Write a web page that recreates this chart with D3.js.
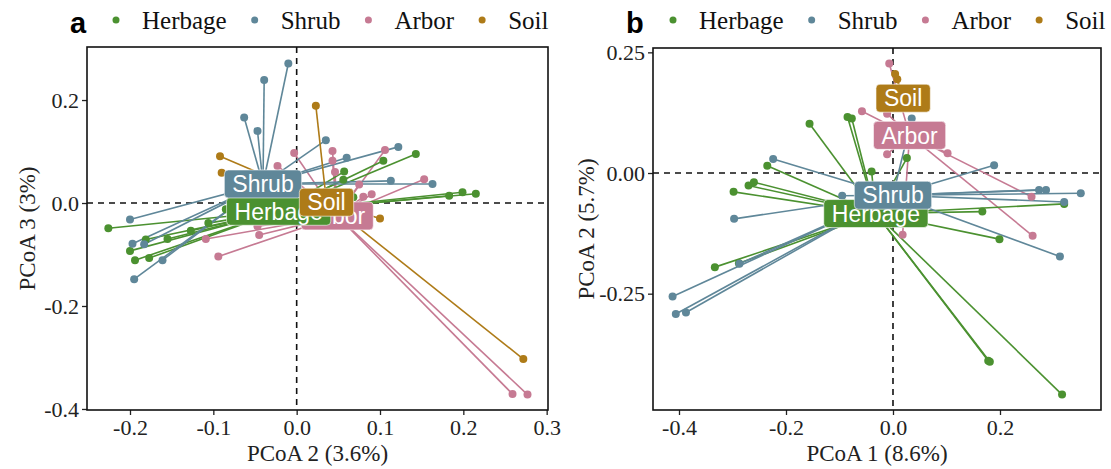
<!DOCTYPE html>
<html>
<head>
<meta charset="utf-8">
<script src="https://cdn.jsdelivr.net/npm/d3@7"></script>
<style>
  body { margin: 0; background: #fff; }
  svg text { font-family: "Liberation Serif", "Times New Roman", serif; }
</style>
</head>
<body>
<div id="chart"></div>
<script>
// groups and colours
var groups = ["Herbage", "Shrub", "Arbor", "Soil"];
var groupColors = ["#4b9130", "#5f8799", "#c67a93", "#ae7b18"];

// panel a: PCoA 2 (x) vs PCoA 3 (y)
var herbageA = [[-0.226,-0.049],[-0.200,-0.093],[-0.194,-0.111],[-0.181,-0.071],[-0.177,-0.107],[-0.155,-0.070],
  [-0.127,-0.054],[-0.106,-0.039],[-0.085,-0.012],[0.057,0.061],[0.104,0.082],[0.143,0.095],[0.183,0.014],
  [0.199,0.021],[0.215,0.018],[0.068,0.011],[0.056,0.045]];
var shrubA = [[-0.010,0.271],[-0.039,0.239],[-0.063,0.166],[-0.047,0.140],[0.035,0.122],[0.060,0.088],
  [0.122,0.109],[0.113,0.043],[0.163,0.037],[-0.200,-0.032],[-0.197,-0.079],[-0.183,-0.080],[-0.161,-0.111],
  [-0.195,-0.148]];
var arborA = [[-0.003,0.097],[0.043,0.101],[0.043,0.082],[0.046,0.060],[0.106,0.103],[0.153,0.046],
  [0.080,0.012],[0.090,0.017],[0.075,0.036],[-0.023,0.072],[-0.047,-0.045],[-0.045,-0.062],[-0.109,-0.070],
  [-0.094,-0.104],[0.259,-0.371],[0.277,-0.372]];
var soilA = [[0.023,0.189],[-0.092,0.091],[-0.090,0.059],[0.100,-0.030],[0.272,-0.303]];
var centroidsA = [[-0.0216,-0.016],[-0.0404,0.037],[0.0486,-0.025],[0.0358,0.0016]];

// panel b: PCoA 1 (x) vs PCoA 2 (y)
var herbageB = [[-0.156,0.102],[-0.085,0.116],[-0.077,0.113],[-0.235,0.015],[-0.298,-0.039],[-0.270,-0.026],
  [-0.260,-0.019],[-0.040,0.003],[-0.333,-0.195],[-0.288,-0.187],[0.167,-0.080],[0.320,-0.064],[0.199,-0.137],
  [0.178,-0.389],[0.181,-0.391],[0.316,-0.459],[0.026,0.031]];
var shrubB = [[-0.224,0.029],[-0.297,-0.095],[-0.412,-0.256],[-0.406,-0.292],[-0.387,-0.289],[-0.287,-0.188],
  [-0.095,-0.047],[0.189,0.016],[0.273,-0.035],[0.286,-0.035],[0.351,-0.042],[0.320,-0.060],[0.312,-0.173],
  [0.035,0.113]];
var arborB = [[-0.007,0.227],[-0.058,0.128],[0.102,0.041],[0.259,-0.049],[0.261,-0.130],[0.018,-0.128],
  [-0.011,0.039],[-0.011,0.123]];
var soilB = [[0.008,0.194],[0.004,0.205]];
var centroidsB = [[-0.032,-0.084],[0.000,-0.046],[0.031,0.078],[0.019,0.155]];

// axis ticks and titles
var xTicksA = [-0.2, -0.1, 0, 0.1, 0.2, 0.3], yTicksA = [-0.4, -0.2, 0, 0.2];
var xTicksB = [-0.4, -0.2, 0, 0.2], yTicksB = [-0.25, 0, 0.25];

var width = 1111, height = 469;
var svg = d3.select("#chart").append("svg")
  .attr("width", width)
  .attr("height", height);

// draw one spider-plot panel
function drawPanel(opt) {
  var x = d3.scaleLinear().domain(opt.xDomain).range([opt.left, opt.right]);
  var y = d3.scaleLinear().domain(opt.yDomain).range([opt.bottom, opt.top]);
  var g = svg.append("g");

  // reference lines at zero
  g.append("line")
    .attr("x1", opt.left).attr("x2", opt.right)
    .attr("y1", y(0)).attr("y2", y(0))
    .attr("stroke", "#111").attr("stroke-width", 1.6).attr("stroke-dasharray", "6,5");
  g.append("line")
    .attr("x1", x(0)).attr("x2", x(0))
    .attr("y1", opt.top).attr("y2", opt.bottom)
    .attr("stroke", "#111").attr("stroke-width", 1.6).attr("stroke-dasharray", "6,5");

  // draw in alphabetical order like ggplot: Arbor, Herbage, Shrub, Soil
  var order = [2, 0, 1, 3];
  order.forEach(function(i) {
    var c = opt.centroids[i];
    var pts = opt.points[i];
    g.selectAll(".seg" + i).data(pts).enter()
      .append("line")
      .attr("x1", x(c[0])).attr("y1", y(c[1]))
      .attr("x2", function(d) { return x(d[0]); })
      .attr("y2", function(d) { return y(d[1]); })
      .attr("stroke", groupColors[i])
      .attr("stroke-width", 1.6);
  });
  order.forEach(function(i) {
    g.selectAll(".pt" + i).data(opt.points[i]).enter()
      .append("circle")
      .attr("cx", function(d) { return x(d[0]); })
      .attr("cy", function(d) { return y(d[1]); })
      .attr("r", 4)
      .attr("fill", groupColors[i]);
  });

  // centroid labels
  order.forEach(function(i) {
    var c = opt.centroids[i];
    var lab = g.append("g").attr("transform", "translate(" + x(c[0]) + "," + y(c[1]) + ")");
    var txt = lab.append("text")
      .attr("text-anchor", "middle")
      .attr("dy", "0.36em")
      .style("font-family", "'Liberation Sans', Arial, sans-serif")
      .style("font-size", "23px")
      .attr("fill", "#fff")
      .text(groups[i]);
    var w = txt.node().getComputedTextLength() + 16;
    lab.insert("rect", "text")
      .attr("x", -w / 2).attr("y", -14)
      .attr("width", w).attr("height", 28)
      .attr("rx", 4).attr("ry", 4)
      .attr("fill", groupColors[i])
      .attr("stroke", "#fff").attr("stroke-opacity", 0.6).attr("stroke-width", 1);
  });

  // axes
  var xAxis = g.append("g")
    .attr("transform", "translate(0," + opt.bottom + ")")
    .call(d3.axisBottom(x).tickValues(opt.xTicks).tickSize(5).tickPadding(4)
      .tickFormat(function(d) { return d3.format(opt.xFmt)(d).replace("−", "-"); }));
  var yAxis = g.append("g")
    .attr("transform", "translate(" + opt.left + ",0)")
    .call(d3.axisLeft(y).tickValues(opt.yTicks).tickSize(5).tickPadding(3)
      .tickFormat(function(d) { return d3.format(opt.yFmt)(d).replace("−", "-"); }));
  [xAxis, yAxis].forEach(function(a) {
    a.select(".domain").remove();
    a.selectAll(".tick line").attr("stroke", "#222").attr("stroke-width", 1.3);
    a.selectAll(".tick text")
      .attr("fill", "#222")
      .style("font-family", "'Liberation Serif', 'Times New Roman', serif")
      .style("font-size", "22px");
  });

  // panel border
  g.append("rect")
    .attr("x", opt.left).attr("y", opt.top)
    .attr("width", opt.right - opt.left).attr("height", opt.bottom - opt.top)
    .attr("fill", "none").attr("stroke", "#111").attr("stroke-width", 1.6);

  // axis titles
  g.append("text")
    .attr("x", (opt.left + opt.right) / 2).attr("y", 461)
    .attr("text-anchor", "middle")
    .style("font-size", "23px").attr("fill", "#222")
    .text(opt.xTitle);
  g.append("text")
    .attr("transform", "translate(" + opt.yTitleX + "," + (opt.top + opt.bottom) / 2 + ") rotate(-90)")
    .attr("text-anchor", "middle")
    .style("font-size", "23px").attr("fill", "#222")
    .text(opt.yTitle);

  // tag
  g.append("text")
    .attr("x", opt.tagX).attr("y", 33)
    .style("font-family", "'Liberation Sans', Arial, sans-serif")
    .style("font-weight", "bold").style("font-size", "29px")
    .attr("fill", "#000")
    .text(opt.tag);

  // legend
  var lx = opt.legendX;
  groups.forEach(function(name, i) {
    g.append("circle").attr("cx", lx).attr("cy", 20).attr("r", 3.5).attr("fill", groupColors[i]);
    var t = g.append("text")
      .attr("x", lx + 26).attr("y", 29)
      .style("font-size", "25px").attr("fill", "#111")
      .text(name);
    lx = lx + 26 + t.node().getComputedTextLength() + 28;
  });
}

drawPanel({
  left: 87, right: 548, top: 47, bottom: 410,
  xDomain: [-0.2516, 0.3016], yDomain: [-0.402, 0.303],
  xTicks: xTicksA, yTicks: yTicksA, xFmt: ".1f", yFmt: ".1f",
  points: [herbageA, shrubA, arborA, soilA], centroids: centroidsA,
  xTitle: "PCoA 2 (3.6%)", yTitle: "PCoA 3 (3%)", yTitleX: 35,
  tag: "a", tagX: 70, legendX: 116
});

drawPanel({
  left: 653, right: 1101, top: 48, bottom: 410,
  xDomain: [-0.4486, 0.3888], yDomain: [-0.491, 0.259],
  xTicks: xTicksB, yTicks: yTicksB, xFmt: ".1f", yFmt: ".2f",
  points: [herbageB, shrubB, arborB, soilB], centroids: centroidsB,
  xTitle: "PCoA 1 (8.6%)", yTitle: "PCoA 2 (5.7%)", yTitleX: 594,
  tag: "b", tagX: 626, legendX: 673
});
</script>
</body>
</html>
